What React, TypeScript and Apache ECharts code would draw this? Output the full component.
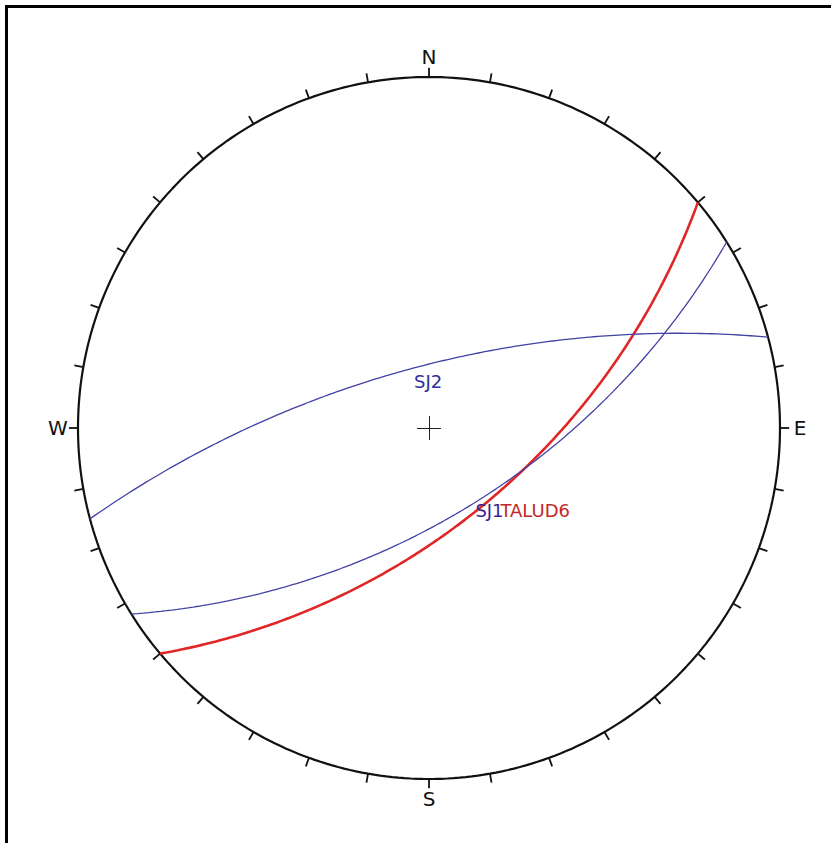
import React, { useEffect, useRef } from "react";
import * as echarts from "echarts";

// Planes plotted as great circles (lower hemisphere, equal-angle net)
const PLANE_NAMES = ["SJ2", "SJ1", "TALUD6"];
const DIP_DIRECTIONS = [345, 148, 140];
const DIPS = [70, 62, 60];

// Compass labels on the primitive circle
const CARDINAL_LABELS = ["N", "E", "S", "W"];
const CARDINAL_AZIMUTHS = [0, 90, 180, 270];
const TICK_STEP_DEG = 10;

const BLUE = "#4242a4";
const RED = "#e02626";
const LINE_COLORS: Record<string, string> = { SJ2: BLUE, SJ1: BLUE, TALUD6: RED };
const LINE_WIDTHS: Record<string, number> = { SJ2: 1.3, SJ1: 1.3, TALUD6: 2.6 };
const LABEL_COLORS: Record<string, string> = { SJ2: "#30309a", SJ1: "#3e1e90", TALUD6: "#c42828" };
const LABEL_OFFSETS: Record<string, [number, number]> = { SJ2: [1, 13], SJ1: [0, 8], TALUD6: [11, 10] };

const rad = (d: number) => (d * Math.PI) / 180;

// Stereographic (equal-angle) projection of a downward unit vector (east, north, up)
function project(e: number, n: number, u: number): [number, number] {
  return [e / (1 - u), n / (1 - u)];
}

function greatCircle(dipDir: number, dip: number): [number, number][] {
  const strike = rad(dipDir - 90);
  const dd = rad(dipDir);
  const dp = rad(dip);
  const s = [Math.sin(strike), Math.cos(strike), 0];
  const d = [Math.sin(dd) * Math.cos(dp), Math.cos(dd) * Math.cos(dp), -Math.sin(dp)];
  const pts: [number, number][] = [];
  for (let t = 0; t <= 180; t += 1) {
    const c = Math.cos(rad(t));
    const sn = Math.sin(rad(t));
    pts.push(project(c * s[0] + sn * d[0], c * s[1] + sn * d[1], c * s[2] + sn * d[2]));
  }
  return pts;
}

const FONT = "DejaVu Sans";

export default function App() {
  const ref = useRef<HTMLDivElement>(null);
  useEffect(() => {
    if (!ref.current) return;
    const chart = echarts.init(ref.current, undefined, { renderer: "svg" });

    const circle: [number, number][] = [];
    for (let a = 0; a <= 360; a += 1) circle.push([Math.sin(rad(a)), Math.cos(rad(a))]);

    const ticks: { coords: [number, number][] }[] = [];
    for (let a = 0; a < 360; a += TICK_STEP_DEG) {
      ticks.push({
        coords: [
          [Math.sin(rad(a)), Math.cos(rad(a))],
          [1.026 * Math.sin(rad(a)), 1.026 * Math.cos(rad(a))],
        ],
      });
    }
    // centre mark
    const cross = [
      { coords: [[-0.034, 0], [0.034, 0]] },
      { coords: [[0, -0.034], [0, 0.034]] },
    ];

    const series: any[] = [
      {
        type: "line",
        data: circle,
        showSymbol: false,
        silent: true,
        clip: false,
        lineStyle: { color: "#111", width: 2.2 },
        z: 3,
      },
      {
        type: "lines",
        coordinateSystem: "cartesian2d",
        data: ticks,
        silent: true,
        clip: false,
        lineStyle: { color: "#111", width: 1.8, opacity: 1 },
        z: 3,
      },
      {
        type: "lines",
        coordinateSystem: "cartesian2d",
        data: cross,
        silent: true,
        lineStyle: { color: "#222", width: 1, opacity: 1 },
        z: 3,
      },
      {
        type: "scatter",
        symbolSize: 0,
        silent: true,
        clip: false,
        itemStyle: { opacity: 1 },
        data: CARDINAL_LABELS.map((name, i) => ({
          name,
          value: [1.057 * Math.sin(rad(CARDINAL_AZIMUTHS[i])), 1.057 * Math.cos(rad(CARDINAL_AZIMUTHS[i]))],
        })),
        label: {
          show: true,
          position: "inside",
          formatter: "{b}",
          color: "#111",
          opacity: 1,
          fontFamily: FONT,
          fontSize: 20,
          align: "center",
          verticalAlign: "middle",
        },
      },
    ];

    PLANE_NAMES.forEach((name, i) => {
      const pts = greatCircle(DIP_DIRECTIONS[i], DIPS[i]);
      series.push({
        type: "line",
        name,
        data: pts,
        showSymbol: false,
        silent: true,
        lineStyle: { color: LINE_COLORS[name], width: LINE_WIDTHS[name] },
        z: name === "TALUD6" ? 4 : 5,
      });
      series.push({
        type: "scatter",
        symbolSize: 0,
        silent: true,
        itemStyle: { opacity: 1 },
        data: [{ name, value: pts[90] }],
        label: {
          show: true,
          position: "inside",
          formatter: "{b}",
          color: LABEL_COLORS[name],
          opacity: 1,
          fontFamily: FONT,
          fontSize: 18,
          align: "left",
          verticalAlign: "middle",
          offset: LABEL_OFFSETS[name],
        },
        z: 6,
      });
    });

    chart.setOption({
      animation: false,
      backgroundColor: "#fff",
      grid: { left: 78, top: 77, width: 702, height: 702 },
      xAxis: { type: "value", min: -1, max: 1, show: false },
      yAxis: { type: "value", min: -1, max: 1, show: false },
      graphic: [
        {
          type: "rect",
          shape: { x: 6.5, y: 6.5, width: 900, height: 900 },
          style: { fill: "none", stroke: "#000", lineWidth: 3 },
          silent: true,
        },
      ],
      series,
    });
    return () => chart.dispose();
  }, []);
  return (
    <div
      ref={ref}
      style={{ position: "fixed", left: 0, top: 0, width: 831, height: 843 }}
    />
  );
}
